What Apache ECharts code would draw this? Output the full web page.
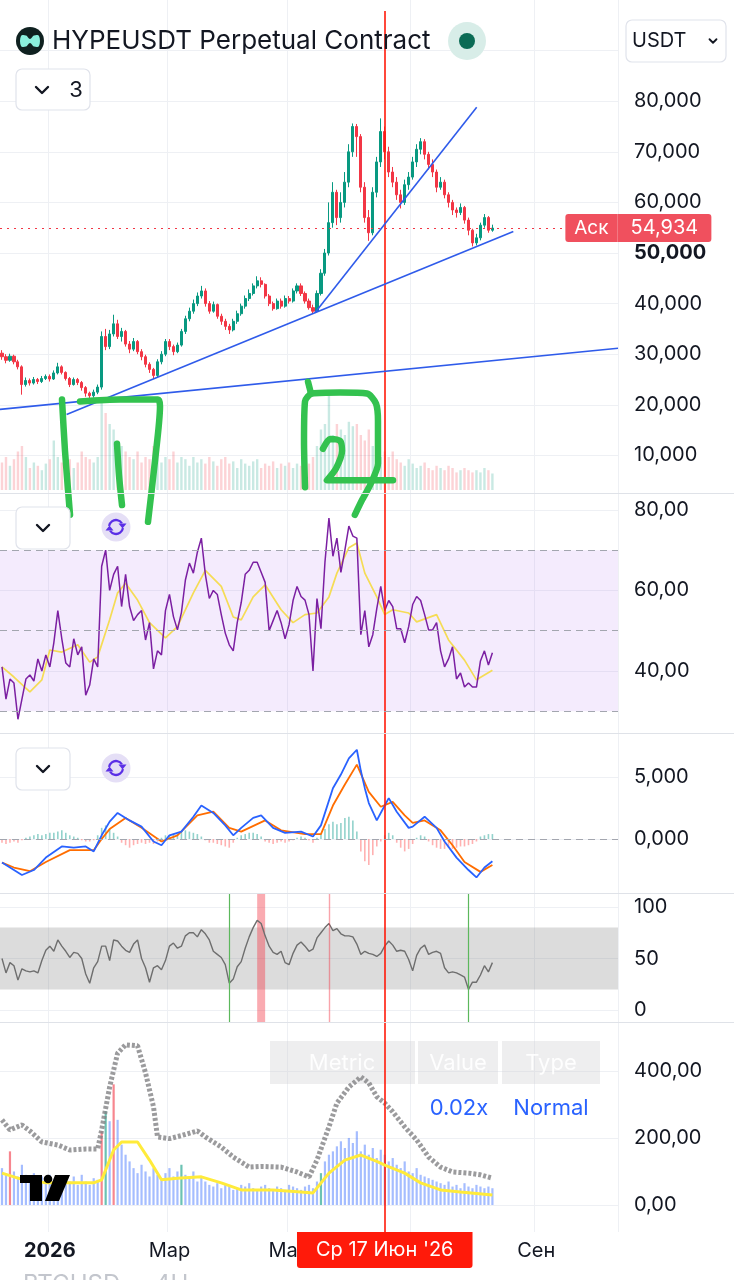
<!DOCTYPE html>
<html><head><meta charset="utf-8">
<script src="https://cdn.jsdelivr.net/npm/echarts@6/dist/echarts.min.js"></script>
<style>html,body{margin:0;padding:0;background:#fff}#c{width:734px;height:1280px}</style>
</head><body><div id="c"></div>
<script>
// ---------- axis / time slots (2-day slots) ----------
const slotCount = 155;
const startDay = Date.UTC(2025, 11, 8);
const slotDays = 2;
const tickSlots = [12, 42, 72, 103, 134];
const tickLabels = ['2026', 'Мар', 'Май', 'Июл', 'Сен'];
const crosshairSlot = 96;
const crosshairLabel = "Ср 17 Июн '26";

// ---------- price candles [open, close, low, high] ----------
const ohlc = [
[30.2,29.5,28.9,30.8],[29.5,28.8,28.2,30.0],[28.8,29.6,28.5,30.1],[29.6,28.5,28.0,29.9],[28.5,27.5,27.0,28.9],
[27.5,24.0,22.0,27.8],[24.0,24.8,23.6,25.4],[24.8,24.3,23.8,25.2],[24.3,25.0,24.0,25.5],[25.0,24.6,24.1,25.3],
[24.6,25.2,24.3,25.7],[25.2,25.6,24.9,26.0],[25.6,25.1,24.6,26.0],[25.1,26.3,24.9,26.8],[26.3,27.5,26.0,28.3],
[27.5,26.4,26.0,27.8],[26.4,25.2,24.8,26.6],[25.2,24.0,23.5,25.5],[24.0,25.0,23.8,25.4],[25.0,24.4,23.9,25.3],
[24.4,23.4,22.8,24.7],[23.4,22.3,21.6,23.7],[22.3,21.8,21.0,22.6],[21.8,22.5,21.4,23.0],[22.5,23.5,22.1,24.0],
[23.5,33.5,23.0,34.5],[33.5,31.5,30.8,35.0],[31.5,34.0,31.0,34.8],[34.0,36.0,33.5,37.8],[36.0,33.5,33.0,36.8],
[33.5,34.5,32.5,35.2],[34.5,32.0,31.5,34.8],[32.0,31.0,30.2,32.6],[31.0,32.5,30.6,33.2],[32.5,30.5,30.0,32.8],
[30.5,29.5,28.8,31.0],[29.5,28.0,27.4,29.9],[28.0,27.0,26.3,28.4],[27.0,25.8,25.1,27.3],[25.8,28.5,25.5,29.0],
[28.5,30.0,28.0,30.6],[30.0,32.5,29.6,33.0],[32.5,31.5,30.8,33.0],[31.5,30.5,29.8,31.9],[30.5,31.8,30.2,32.3],
[31.8,34.5,31.5,35.0],[34.5,37.0,34.0,37.6],[37.0,38.5,36.5,39.2],[38.5,40.0,38.0,40.8],[40.0,41.5,39.5,42.2],
[41.5,42.5,41.0,43.5],[42.5,40.0,39.4,43.0],[40.0,38.5,38.0,40.5],[38.5,39.8,38.2,40.4],[39.8,37.5,37.0,40.0],
[37.5,36.5,35.8,38.0],[36.5,35.5,34.8,37.0],[35.5,34.8,34.0,36.0],[34.8,36.5,34.5,37.0],[36.5,38.0,36.0,38.6],
[38.0,39.5,37.6,40.0],[39.5,41.0,39.0,41.6],[41.0,42.0,40.5,42.8],[42.0,43.5,41.6,44.0],[43.5,44.5,43.0,45.4],
[44.5,43.8,43.2,45.2],[43.8,41.5,41.0,44.0],[41.5,40.0,39.5,41.9],[40.0,39.0,38.6,40.4],[39.0,40.5,38.8,41.0],
[40.5,39.5,39.0,41.0],[39.5,41.0,39.2,41.6],[41.0,40.5,40.0,41.5],[40.5,42.5,40.2,43.0],[42.5,43.5,42.0,44.0],
[43.5,42.0,41.5,44.0],[42.0,40.5,40.0,42.4],[40.5,39.2,38.8,41.0],[39.2,38.5,38.0,39.8],[38.5,42.0,38.3,42.6],
[42.0,46.0,41.6,46.8],[46.0,50.0,45.5,50.8],[50.0,56.0,49.5,60.0],[56.0,62.0,55.0,64.0],[62.0,57.0,55.5,62.5],
[57.0,60.0,56.0,62.0],[60.0,64.0,59.0,66.0],[64.0,70.0,63.0,71.5],[70.0,75.0,69.0,75.6],[75.0,73.0,69.0,75.5],
[73.0,63.0,62.0,73.5],[63.0,57.0,56.0,64.0],[57.0,54.0,52.4,58.5],[54.0,62.0,53.5,63.0],[62.0,68.0,61.0,69.0],
[68.0,74.0,67.0,76.6],[74.0,70.0,68.5,75.0],[70.0,66.0,65.0,71.0],[66.0,64.0,63.0,67.0],[64.0,61.5,60.5,65.0],
[61.5,60.0,58.8,62.5],[60.0,63.5,59.5,64.5],[63.5,65.0,62.5,66.0],[65.0,68.0,64.5,69.0],[68.0,70.5,67.0,71.5],
[70.5,72.0,69.5,72.7],[72.0,69.5,68.5,72.5],[69.5,67.5,66.5,70.0],[67.5,66.0,65.0,68.5],[66.0,63.0,62.0,66.5],
[63.0,64.0,62.5,65.0],[64.0,61.5,60.8,64.5],[61.5,60.0,59.0,62.0],[60.0,58.5,57.5,60.5],[58.5,58.0,57.0,59.0],
[58.0,59.0,57.5,59.8],[59.0,56.5,55.8,59.3],[56.5,54.5,53.5,57.0],[54.5,52.0,51.3,54.8],[52.0,53.0,51.5,53.8],
[53.0,55.5,52.5,56.0],[55.5,57.0,55.0,57.7],[57.0,54.5,54.0,57.3],[54.5,54.934,54.2,55.6]
];
const volume = [25,30,22,28,35,40,30,20,25,22,18,24,28,45,30,25,22,28,20,25,35,30,28,25,30,
80,70,60,55,45,40,35,
30,28,35,25,30,28,40,35,25,30,28,35,25,30,28,22,30,25,28,
24,30,26,22,28,30,24,26,20,28,24,22,26,28,20,24,22,26,20,24,22,25,20,24,22,26,24,30,
40,55,60,88,50,60,55,50,62,58,60,50,45,55,40,35,30,35,
30,35,28,25,22,28,24,20,22,25,20,18,22,20,18,22,20,16,18,20,18,16,18,16,20,18,15];

// trend lines drawn on the chart: [slot, price] end points
const trendLines = [
  [[-0.5, 19.10], [154.5, 31.19]],
  [[16.2, 18.07], [128.25, 54.25]],
  [[78.5, 38.21], [119.06, 78.81]]
];
const askSlotEnd = 141.3;
// hand-drawn green marks, [slot, price]
const strokes = [
  [[15.05,21.05],[15.8,10.9],[17.06,-1.75]],
  [[19.57,20.66],[29.6,21.05],[39.13,21.05],[39.63,19.69],[38.38,8.97],[36.62,-3.12]],
  [[28.85,12.28],[29.35,6.04],[30.1,0.19]],
  [[76.75,24.56],[77.5,22.22]],
  [[76.0,3.70],[75.75,12.87],[76.0,20.66],[77.75,22.22],[84.78,22.42],[91.55,22.22],[93.8,20.27],[94.3,16.76],[94.3,8.38],[92.3,4.09],[90.3,1.17],[88.5,-1.75]],
  [[80.5,11.31],[82.3,13.26],[84.78,12.87],[85.28,10.92],[83.77,7.41],[81.5,5.07],[87.3,5.07],[98.07,5.07]]
];

// ---------- RSI ----------
const rsi = [41,33,38,37,28,33,38,39,37.5,43, 40,44,41,47,55,48,42,41,48,44,
46,34,36.5,43,41,66,70,60,64,66, 56,64,56,52.5,54,55,47.7,52,40.5,45,
44,55,59,53.5,50.2,54.5,62.6,66.8,64.3,69.5, 73,64,58,60,59,54,49.4,46.5,45,52,
57,64,65,67,67,64.5,62,50,52.5,55, 52,48,51.5,57.5,61,58.5,57.6,54,40,58,
50.5,67,78,68.5,73,64.5,70,76,73.5,73, 49,55,46,49,55.5,61,55,57.5,56,50.5,
50.5,47,51,56.5,58.5,57.5,54,50.2,50.2,52, 45,41,43,46,38,39.5,36,37,36,36,
42.5,45,41.5,44.5];
const rsiMa = [[0,41],[3,38.5],[7,34.8],[10,37.8],[12,45.2],[15,44.7],[19,46.5],[22,42.2],[24,43.5],[27,52.7],[29,59.4],[31,61.8],[34,57.6],[37,52],[41,48.2],[44,51],[48,59.4],[51,65],[55,61],[58,53.4],[60,52.7],[63,58.4],[66,61.4],[70,55.2],[73,52],[76,54],[79,54.4],[82,58.4],[84,64.3],[87,70.6],[89,71.8],[91,64.3],[94,58.4],[96,54],[98,55.2],[102,54.4],[104,52.2],[109,54],[112,47.7],[116,42.7],[119,37.8],[123,40.2]];
const rsiLevels = [70, 50, 30];

// ---------- MACD ----------
const macd = [[0,-1.9],[2,-2.3],[5,-2.9],[8,-2.5],[11,-1.5],[15,-0.6],[18,-0.7],[21,-0.6],[23,-1.0],[25,0.3],[27,1.4],[29,2.1],[32,1.5],[35,1.0],[38,-0.2],[40,-0.5],[42,0.3],[45,0.6],[48,1.8],[50,2.7],[53,2.1],[56,1.1],[58,0.3],[60,0.9],[63,1.7],[65,1.9],[68,0.9],[71,0.5],[75,0.6],[78,0.2],[80,1.1],[83,4.1],[85,5.2],[87,6.5],[89,7.2],[90,5.5],[91,4.1],[92,2.9],[94,1.5],[96,2.7],[97,3.3],[99,2.2],[102,0.9],[103,1.0],[106,1.8],[109,0.9],[111,-0.2],[114,-1.5],[117,-2.5],[119,-3.1],[121,-2.3],[123,-1.8]];
const signal = [[0,-1.9],[3,-2.3],[7,-2.6],[11,-1.85],[17,-0.9],[23,-0.9],[25,0.0],[27,0.8],[31,1.7],[35,0.9],[40,-0.2],[44,0.3],[49,1.9],[53,2.2],[57,0.9],[60,0.6],[66,1.5],[70,0.7],[76,0.4],[80,0.4],[83,2.7],[86,4.4],[89,6.0],[92,3.8],[95,2.6],[98,3.0],[101,1.9],[103,1.3],[106,1.5],[110,0.7],[113,-0.5],[116,-1.85],[120,-2.65],[123,-2.1]];
const hist = [-0.3,-0.4,-0.3,-0.2,-0.3,-0.1,0.1,0.2,0.3,0.4, 0.3,0.4,0.5,0.5,0.6,0.7,0.5,0.3,0.2,0.1,
-0.1,-0.2,-0.2,-0.1,0.3,0.9,1.1,0.8,0.5,0.2, -0.3,-0.5,-0.7,-0.5,-0.4,-0.3,-0.4,-0.3,-0.4,-0.2,
0.1,0.3,0.3,0.4,0.4,0.6,0.7,0.6,0.5,0.4, 0.2,-0.1,-0.3,-0.3,-0.4,-0.5,-0.6,-0.7,-0.3,0.1,
0.3,0.4,0.5,0.5,0.4,0.2,-0.2,-0.3,-0.4,-0.3, -0.2,-0.3,-0.2,-0.1,0.1,0.2,0.1,-0.1,-0.3,0.1,
0.4,0.8,1.2,1.4,1.2,1.3,1.7,1.8,1.5,0.6, -1.0,-1.8,-2.1,-1.3,-0.6,-0.2,0.3,0.5,0.3,-0.3,
-0.7,-1.0,-0.8,-0.4,0.1,0.3,0.2,-0.2,-0.5,-0.7, -0.8,-0.8,-0.7,-0.8,-0.7,-0.6,-0.6,-0.5,-0.4,-0.2,
0.2,0.3,0.4,0.4];

// ---------- oscillator (0-100) ----------
const stoch = [50,36,46,43,29,40,38,37,38,36, 48,58,62,57,68,62,57,51,56,55,
50,35,26,41,47,62,62,48,68,67, 62,58,56,64,68,50,41,27,41,43,
39,48,62,65,60,62,72,75,75,71, 78,74,68,57,54,51,44,26,30,42,
47,60,71,80,87,84,72,62,56,54, 57,46,44,55,63,66,62,57,59,70,
75,80,84,77,79,74,72,72,71,64, 54,57,55,54,52,55,62,67,63,57,
58,57,49,38,53,60,63,54,56,57, 55,41,36,37,36,34,32,20,27,27,
34,43,37,46];
const stochBand = [20, 80];
const buySlots = [57, 117];
const sellSlots = [82];
const sellBand = [64, 66];

// ---------- bottom pane ----------
const bottomBars = [110,95,160,100,85,120,90,80,95,70,85,75,90,
65,80,60,75,70,85,60,90,70,60,80,75,
220,280,250,360,254,180,150,
130,110,95,120,100,85,110,90,80,
95,110,85,100,120,90,80,100,70,85,
70,60,55,65,50,60,55,45,50,60,55,65,50,45,55,60,50,45,55,50,45,60,55,50,45,55,60,50,70,95,
130,150,160,175,190,170,200,185,220,160,180,150,170,140,165,
150,130,140,120,110,130,100,95,110,90,85,80,75,70,65,
60,70,55,60,50,65,55,50,60,55,50,55,50];
const redBarSlots = [2, 25, 28];
const greenBarSlots = [26, 45, 80];
const grayLine = [[0,254],[2,224],[5,239],[7,221],[10,188],[14,179],[17,164],[21,167],[24,167],[25,224],[27,352],[29,453],[31,478],[34,475],[36,394],[38,293],[39,203],[42,198],[45,207],[49,221],[51,203],[55,173],[58,143],[62,113],[65,115],[70,113],[74,98.5],[77,83.6],[79,134],[82,233],[84,304],[87,352],[90,382],[92,364],[94,323],[96,304],[98,278],[101,233],[104,194],[107,143],[110,113],[113,98.5],[117,95],[120,90],[123,80]];
const yellowLine = [[0,95],[4,80],[11,66],[23,66],[25,75],[28,164],[30,188],[34,188],[37,134],[40,75],[44,80],[50,84],[55,66],[60,45],[68,45],[75,39],[78,36],[82,95],[86,134],[90,149],[94,130],[96,119],[101,95],[105,66],[110,45],[115,39],[123,30]];

// ---------- build ----------
const categories = [];
for (let i = 0; i < slotCount; i++) {
  const d = new Date(startDay + i * slotDays * 86400000);
  categories.push(d.toISOString().slice(0, 10));
}
const FF = 'Inter, Roboto, sans-serif';
const gridColor = '#eef0f4';
const sepColor = '#dfe2e8';
const lastPrice = ohlc[ohlc.length - 1][1];
const comma = (v, d) => v.toFixed(d).replace('.', ',');

const panes = {
  main: [0, 100], rsi: [20, 84.2], macd: [-5, 8.55], osc: [-50, 113.6], bot: [-200, 546]
};
const oscPane = [-11.65, 113.6];

const grids = [
  {left: 0, right: 116, top: 0, bottom: 48},        // 0 background / time axis
  {left: 0, right: 116, top: -7, bottom: 774},      // 1 price
  {left: 0, right: 116, top: 380, bottom: 790},     // 2 volume
  {left: 0, right: 116, top: 493, bottom: 528.5},   // 3 RSI
  {left: 0, right: 116, top: 733, bottom: 379},     // 4 MACD
  {left: 0, right: 116, top: 893, bottom: 218.5},   // 5 oscillator
  {left: 0, right: 116, top: 1022, bottom: 8}       // 6 bottom
];

const hiddenCat = g => ({type: 'category', gridIndex: g, data: categories, boundaryGap: true, show: false});
const xAxes = [
  {type: 'category', gridIndex: 0, data: categories, boundaryGap: true,
   axisLine: {show: false}, axisTick: {show: false},
   axisLabel: {interval: (i) => tickSlots.includes(i), margin: 9, fontSize: 20, color: '#131722', fontFamily: FF,
     formatter: (v, i) => { const k = tickSlots.indexOf(i); if (k < 0) return ''; return k === 0 ? '{b|' + tickLabels[k] + '}' : tickLabels[k]; },
     rich: {b: {fontWeight: 'bold', fontSize: 20, color: '#131722', fontFamily: FF}}},
   splitLine: {show: true, interval: (i) => tickSlots.includes(i), lineStyle: {color: gridColor, width: 1}}},
  hiddenCat(1),
  {type: 'value', gridIndex: 1, min: -0.5, max: 154.5, show: false},
  hiddenCat(2), hiddenCat(3), hiddenCat(4), hiddenCat(5), hiddenCat(6)
];

const yLab = (fmt, extra) => Object.assign({margin: 16, fontSize: 20, color: '#131722', fontFamily: FF, formatter: fmt}, extra || {});
const ySplit = {show: true, showMinLine: false, showMaxLine: false, lineStyle: {color: gridColor}};
const yAxes = [
  {type: 'value', gridIndex: 0, min: 0, max: 100, show: false},
  {type: 'value', gridIndex: 1, position: 'right', min: panes.main[0], max: panes.main[1], interval: 10,
   axisLine: {show: false}, axisTick: {show: false}, splitLine: {show: true, showMinLine: false, showMaxLine: false, lineStyle: {color: gridColor}},
   axisLabel: yLab(v => { if (v < 10 || v > 80) return ''; const s = comma(v, 3); return v === 50 ? '{b|' + s + '}' : s; },
     {rich: {b: {fontWeight: 'bold', fontSize: 20, color: '#131722', fontFamily: FF}}})},
  {type: 'value', gridIndex: 2, min: 0, max: 100, show: false},
  {type: 'value', gridIndex: 3, position: 'right', min: panes.rsi[0], max: panes.rsi[1], interval: 20,
   axisLine: {show: false}, axisTick: {show: false}, splitLine: ySplit,
   axisLabel: yLab(v => (v < 40 || v > 80) ? '' : comma(v, 2))},
  {type: 'value', gridIndex: 4, position: 'right', min: panes.macd[0], max: panes.macd[1], interval: 5,
   axisLine: {show: false}, axisTick: {show: false}, splitLine: ySplit,
   axisLabel: yLab(v => (v < 0 || v > 5) ? '' : comma(v, 3))},
  {type: 'value', gridIndex: 5, position: 'right', min: panes.osc[0], max: panes.osc[1], interval: 50,
   axisLine: {show: false}, axisTick: {show: false}, splitLine: ySplit,
   axisLabel: yLab(v => (v < 0 || v > 100) ? '' : String(v))},
  {type: 'value', gridIndex: 6, position: 'right', min: panes.bot[0], max: panes.bot[1], interval: 200,
   axisLine: {show: false}, axisTick: {show: false}, splitLine: ySplit,
   axisLabel: yLab(v => (v < 0 || v > 400) ? '' : comma(v, 2))}
];

const series = [];
// crosshair line + date label
series.push({type: 'line', xAxisIndex: 0, yAxisIndex: 0, data: [], z: 30, silent: true,
  markLine: {symbol: ['none', 'none'], silent: true, animation: false,
    lineStyle: {color: '#ff1a0a', width: 1.6, type: 'solid'},
    label: {show: true, position: 'end', distance: 0, formatter: crosshairLabel, color: '#fff', fontSize: 20, fontFamily: FF,
      backgroundColor: '#ff1a0a', padding: [8, 19, 8, 19], borderRadius: [0, 0, 3, 3]},
    data: [[{coord: [crosshairSlot, 99.1]}, {coord: [crosshairSlot, 0]}]]}});
// candles
series.push({type: 'candlestick', xAxisIndex: 1, yAxisIndex: 1, data: ohlc, barWidth: 2.6,
  itemStyle: {color: '#089981', color0: '#f23645', borderColor: '#089981', borderColor0: '#f23645', borderWidth: 1}});
// trend lines
trendLines.forEach((t, k) => {
  const s = {type: 'line', xAxisIndex: 2, yAxisIndex: 1, data: t, symbol: 'none', z: 5,
    lineStyle: {color: '#2f5bea', width: 1.6}};
  if (k === 0) {
    s.markLine = {symbol: ['none', 'none'], silent: true, animation: false,
      lineStyle: {color: '#f23645', width: 1.2, type: [2, 5]},
      label: {show: true, position: 'end', distance: 0, formatter: '{a|Аск}{b|' + comma(lastPrice, 3) + '}',
        rich: {a: {backgroundColor: '#f0505e', color: '#fff', fontSize: 19, fontFamily: FF, width: 44, height: 28, lineHeight: 28, align: 'center', padding: [0, 4], borderRadius: [3, 0, 0, 3], borderColor: '#3f51b5', borderWidth: 0},
               b: {backgroundColor: '#f0505e', color: '#fff', fontSize: 20, fontFamily: FF, width: 86, height: 28, lineHeight: 28, align: 'center', padding: [0, 4], borderRadius: [0, 3, 3, 0]}}},
      data: [[{coord: [-0.5, lastPrice]}, {coord: [askSlotEnd, lastPrice]}]]};
  }
  series.push(s);
});
// green hand-drawn marks
strokes.forEach(st => series.push({type: 'line', xAxisIndex: 2, yAxisIndex: 1, data: st, symbol: 'none', clip: false, z: 12, smooth: 0.25,
  lineStyle: {color: '#33c24f', width: 6.5, cap: 'round', join: 'round'}}));
// volume
series.push({type: 'bar', xAxisIndex: 3, yAxisIndex: 2, barWidth: 2.4,
  data: volume.map((v, i) => ({value: v, itemStyle: {color: ohlc[i][1] >= ohlc[i][0] ? 'rgba(8,153,129,0.22)' : 'rgba(242,54,69,0.22)'}}))});
// RSI
series.push({type: 'line', xAxisIndex: 4, yAxisIndex: 3, data: rsi, symbol: 'none', z: 4,
  lineStyle: {color: '#7b1fa2', width: 1.5},
  markArea: {silent: true, itemStyle: {color: 'rgba(170,100,240,0.13)'}, data: [[{yAxis: 30}, {yAxis: 70}]]},
  markLine: {symbol: ['none', 'none'], silent: true, label: {show: false}, lineStyle: {color: '#a3a6af', type: [7, 5], width: 1},
    data: rsiLevels.map(v => ({yAxis: v}))}});
series.push({type: 'line', xAxisIndex: 4, yAxisIndex: 3, data: rsiMa, symbol: 'none', z: 3, lineStyle: {color: '#f5dc55', width: 1.7}});
// MACD
series.push({type: 'bar', xAxisIndex: 5, yAxisIndex: 4, barWidth: 1.6,
  data: hist.map(v => ({value: v, itemStyle: {color: v >= 0 ? 'rgba(38,166,154,0.5)' : 'rgba(255,82,82,0.45)'}})),
  markLine: {symbol: ['none', 'none'], silent: true, label: {show: false}, lineStyle: {color: '#a3a6af', type: [7, 5], width: 1}, data: [{yAxis: 0}]}});
series.push({type: 'line', xAxisIndex: 5, yAxisIndex: 4, data: signal, symbol: 'none', z: 3, lineStyle: {color: '#ff6d00', width: 1.8}});
series.push({type: 'line', xAxisIndex: 5, yAxisIndex: 4, data: macd, symbol: 'none', z: 4, lineStyle: {color: '#2962ff', width: 1.8}});
// oscillator
series.push({type: 'line', xAxisIndex: 6, yAxisIndex: 5, data: stoch, symbol: 'none', z: 4,
  lineStyle: {color: '#6e6e6e', width: 1.4},
  markArea: {silent: true, data: [
    [{yAxis: stochBand[0], itemStyle: {color: 'rgba(120,120,120,0.26)'}}, {yAxis: stochBand[1]}],
    [{coord: [sellBand[0], oscPane[0]], itemStyle: {color: 'rgba(242,54,69,0.42)'}}, {coord: [sellBand[1], oscPane[1]]}]
  ]},
  markLine: {symbol: ['none', 'none'], silent: true, label: {show: false},
    data: buySlots.map(s => [{coord: [s, oscPane[0]], lineStyle: {color: '#5cb85c', width: 1.2, type: 'solid'}}, {coord: [s, oscPane[1]]}])
      .concat(sellSlots.map(s => [{coord: [s, oscPane[0]], lineStyle: {color: 'rgba(242,54,69,0.45)', width: 1.4, type: 'solid'}}, {coord: [s, oscPane[1]]}]))}});
// bottom pane
series.push({type: 'bar', xAxisIndex: 7, yAxisIndex: 6, barWidth: 2.2,
  data: bottomBars.map((v, i) => ({value: v, itemStyle: {color: redBarSlots.includes(i) ? 'rgba(242,54,69,0.6)' : greenBarSlots.includes(i) ? 'rgba(8,153,129,0.6)' : 'rgba(41,98,255,0.42)'}}))});
series.push({type: 'line', xAxisIndex: 7, yAxisIndex: 6, data: grayLine, symbol: 'none', z: 4,
  lineStyle: {color: 'rgba(130,130,133,0.8)', width: 5, type: [3, 2]}});
series.push({type: 'line', xAxisIndex: 7, yAxisIndex: 6, data: yellowLine, symbol: 'none', z: 5,
  lineStyle: {color: '#ffeb3b', width: 3}});

// ---------- decorations ----------
const txt = (x, y, text, o) => ({type: 'text', x, y, z: 100, style: Object.assign({text, fontSize: 20, fontFamily: FF, fill: '#131722', align: 'left', verticalAlign: 'middle'}, o || {})});
const box = (x, y, w, h) => ({type: 'rect', z: 99, shape: {x, y, width: w, height: h, r: 6}, style: {fill: '#fff', stroke: '#e0e3eb', lineWidth: 1.2}});
const chevron = (cx, cy, s, w) => ({type: 'polyline', z: 101, shape: {points: [[cx - s, cy - s / 2], [cx, cy + s / 2], [cx + s, cy - s / 2]]}, style: {stroke: '#131722', lineWidth: w, fill: null, lineCap: 'round', lineJoin: 'round'}});
const syncIcon = (cx, cy) => [
  {type: 'circle', z: 99, shape: {cx, cy, r: 14.5}, style: {fill: '#e5dff6'}},
  {type: 'arc', z: 101, shape: {cx, cy, r: 7, startAngle: Math.PI * 1.05, endAngle: Math.PI * 1.82, clockwise: true}, style: {stroke: '#5b2fe6', lineWidth: 2.3, fill: null}},
  {type: 'polygon', z: 101, shape: {points: [[cx + 2.5, cy - 3.5], [cx + 10.5, cy - 3.5], [cx + 6.5, cy + 1.5]]}, style: {fill: '#5b2fe6'}},
  {type: 'arc', z: 101, shape: {cx, cy, r: 7, startAngle: Math.PI * 0.05, endAngle: Math.PI * 0.82, clockwise: true}, style: {stroke: '#5b2fe6', lineWidth: 2.3, fill: null}},
  {type: 'polygon', z: 101, shape: {points: [[cx - 10.5, cy + 3.5], [cx - 2.5, cy + 3.5], [cx - 6.5, cy - 1.5]]}, style: {fill: '#5b2fe6'}}
];
const sep = y => ({type: 'line', z: 50, shape: {x1: 0, y1: y, x2: 734, y2: y}, style: {stroke: sepColor, lineWidth: 1.2}});
const cell = (x, w) => ({type: 'rect', z: 1, shape: {x, y: 1041, width: w, height: 43}, style: {fill: 'rgba(205,205,210,0.35)'}});

const graphic = [
  sep(493.5), sep(733.5), sep(893.5), sep(1022.5),
  {type: 'circle', z: 100, shape: {cx: 30, cy: 41, r: 14}, style: {fill: '#0f2120'}},
  {type: 'polygon', z: 101, shape: {points: [[21, 36], [26, 35.5], [30, 39], [34, 35.5], [39, 36], [39, 46], [34, 46.5], [30, 43], [26, 46.5], [21, 46]], smooth: 0.4}, style: {fill: '#8af0dd'}},
  txt(52, 41, 'HYPEUSDT Perpetual Contract', {fontSize: 26}),
  {type: 'circle', z: 100, shape: {cx: 467, cy: 41, r: 19}, style: {fill: '#d8ede8'}},
  {type: 'circle', z: 101, shape: {cx: 467, cy: 41, r: 8}, style: {fill: '#0b6b55'}},
  box(626, 20, 100, 42), txt(632, 41, 'USDT'), chevron(713, 41, 3.5, 1.8),
  box(16, 69, 74, 41), chevron(42, 90, 6, 2.4), txt(76, 90, '3', {fontSize: 22, align: 'center'}),
  box(16, 507, 54, 42), chevron(43, 528, 6, 2.4), ...syncIcon(116, 527),
  box(16, 748, 54, 42), chevron(43, 769, 6, 2.4), ...syncIcon(116, 768),
  cell(270, 145), cell(418, 80), cell(502, 98),
  txt(342, 1063, 'Metric', {fill: 'rgba(255,255,255,0.9)', fontSize: 22, align: 'center'}),
  txt(458, 1063, 'Value', {fill: 'rgba(255,255,255,0.9)', fontSize: 22, align: 'center'}),
  txt(551, 1063, 'Type', {fill: 'rgba(255,255,255,0.9)', fontSize: 22, align: 'center'}),
  txt(459, 1108, '0.02x', {fill: '#2962ff', fontSize: 22, align: 'center'}),
  txt(551, 1108, 'Normal', {fill: '#2962ff', fontSize: 22, align: 'center'}),
  {type: 'rect', z: 100, shape: {x: 20, y: 1175, width: 22, height: 8}, style: {fill: '#000'}},
  {type: 'rect', z: 100, shape: {x: 30, y: 1175, width: 12, height: 26}, style: {fill: '#000'}},
  {type: 'circle', z: 100, shape: {cx: 48, cy: 1179, r: 4.3}, style: {fill: '#000'}},
  {type: 'polygon', z: 100, shape: {points: [[55, 1175], [70, 1175], [59, 1201], [45, 1201]]}, style: {fill: '#000'}},
  txt(23, 1273, 'BTCUSD', {fill: '#c3c6cd', fontSize: 24, verticalAlign: 'top'}),
  txt(155, 1273, '4H', {fill: '#c3c6cd', fontSize: 24, verticalAlign: 'top'})
];

const chart = echarts.init(document.getElementById('c'), null, {renderer: 'canvas', width: 734, height: 1280});
chart.setOption({
  animation: false,
  backgroundColor: '#ffffff',
  textStyle: {fontFamily: FF},
  grid: grids, xAxis: xAxes, yAxis: yAxes, series, graphic
});
</script></body></html>
